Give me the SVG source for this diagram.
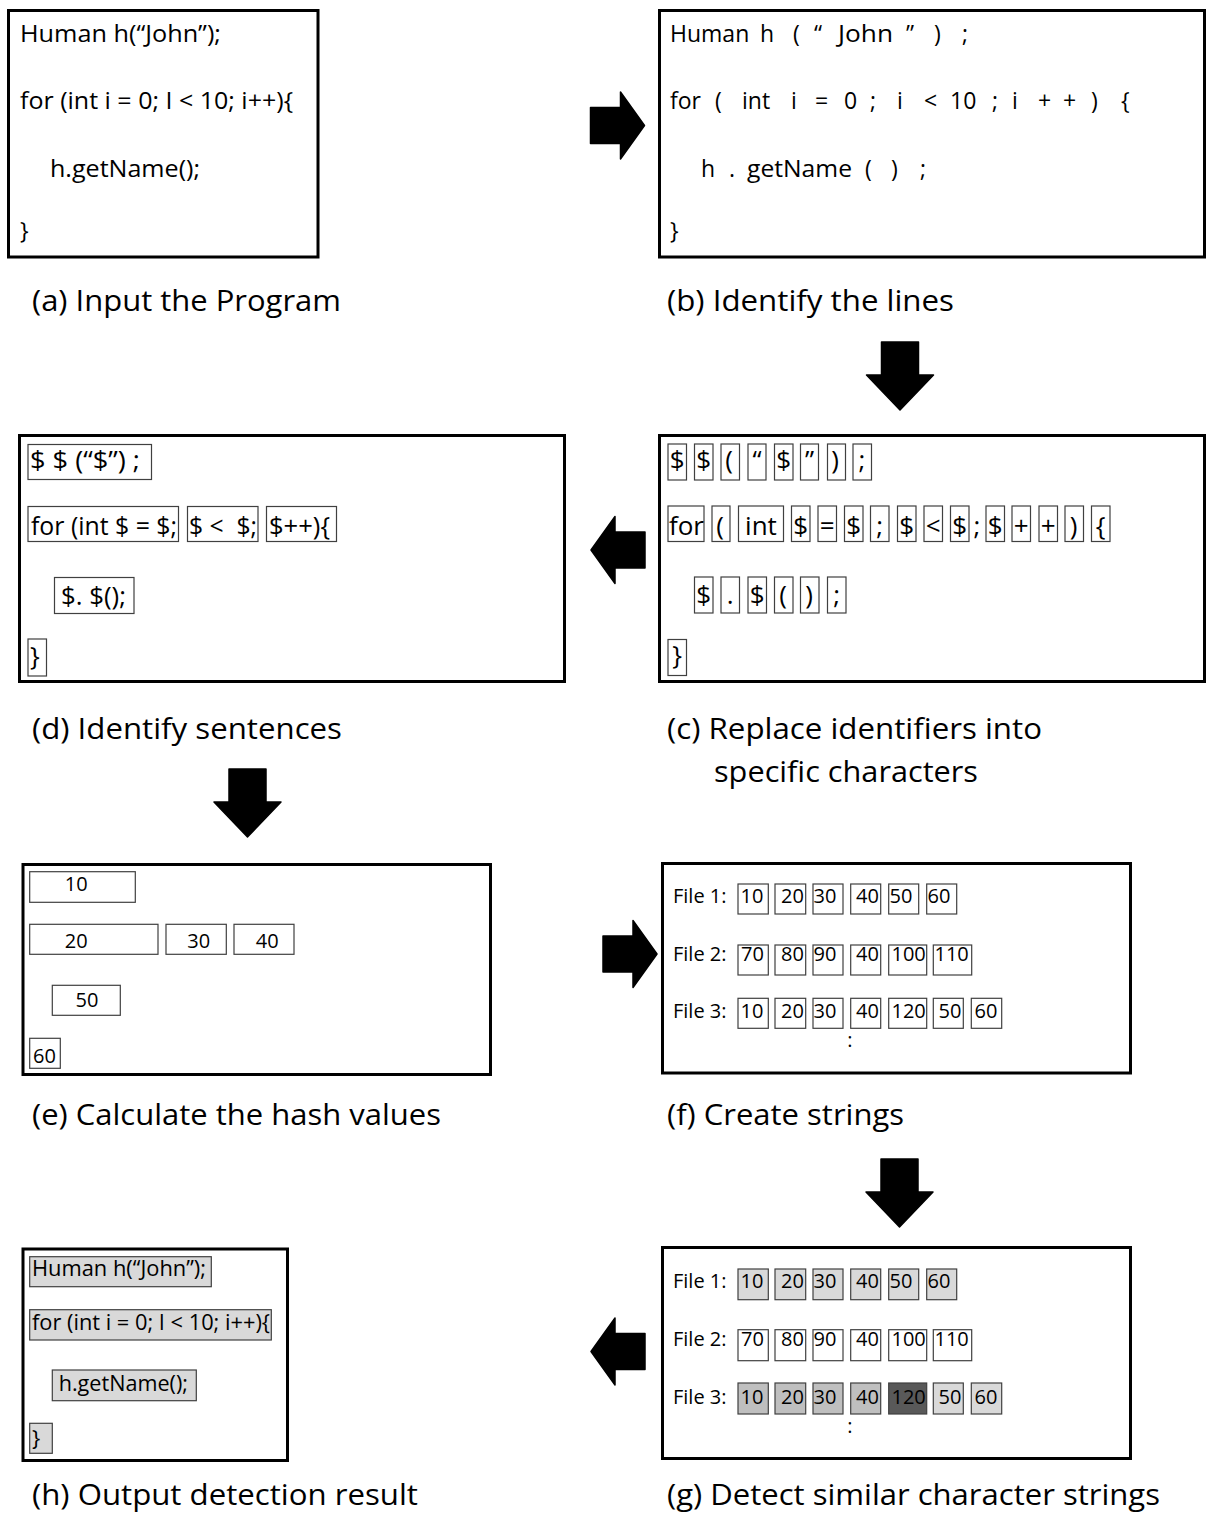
<svg xmlns="http://www.w3.org/2000/svg" width="1206" height="1515" viewBox="0 0 1206 1515">
<style>
.panel{fill:#fff;stroke:#000;stroke-width:3}
.tok{fill:#fff;stroke:#404040;stroke-width:1.2}
.hl{fill:#d9d9d9;stroke:#404040;stroke-width:1.2}
.mid{fill:#bfbfbf;stroke:#404040;stroke-width:1.2}
.dk{fill:#595959;stroke:#404040;stroke-width:1.2}
text{font-family:"Open Sans","Liberation Sans",sans-serif;fill:#000}
.code{font-size:23px}
.codeh{font-size:22px}
.big{font-size:26px}
.c{text-anchor:middle}
.num{font-size:20px}
.cap{font-size:30px}
.arrow{fill:#000;stroke:#000;stroke-width:1.5;stroke-linejoin:round}
</style>
<defs>
<path id="arrH" d="M-27,-18 H3 V-33.5 L27,0 L3,33.5 V18 H-27 Z"/>
<path id="arrV" d="M-18.5,-34 H18.5 V-1 H33.5 L0,34 L-33.5,-1 H-18.5 Z"/>
</defs>
<rect width="1206" height="1515" fill="#fff"/>

<g id="panel-a">
<rect class="panel" x="8.5" y="10.5" width="309.5" height="246.5"/>
<text class="code" x="20" y="42" textLength="201" lengthAdjust="spacingAndGlyphs">Human h(“John”);</text>
<text class="code" x="20" y="109" textLength="273" lengthAdjust="spacingAndGlyphs">for (int i = 0; I &lt; 10; i++){</text>
<text class="code" x="50" y="177" textLength="150" lengthAdjust="spacingAndGlyphs">h.getName();</text>
<text class="code" x="20" y="239">}</text>
<text class="cap" x="32" y="311" textLength="309" lengthAdjust="spacingAndGlyphs">(a) Input the Program</text>
</g>

<g id="panel-b">
<rect class="panel" x="659.5" y="10.5" width="545" height="246.5"/>
<text class="code" y="42"><tspan x="670">Human</tspan><tspan x="760">h</tspan><tspan x="793">(</tspan><tspan x="814">“</tspan><tspan x="838" textLength="55" lengthAdjust="spacingAndGlyphs">John</tspan><tspan x="906">”</tspan><tspan x="934">)</tspan><tspan x="962">;</tspan></text>
<text class="code" y="109"><tspan x="670">for</tspan><tspan x="715">(</tspan><tspan x="742">int</tspan><tspan x="791">i</tspan><tspan x="815">=</tspan><tspan x="844">0</tspan><tspan x="870">;</tspan><tspan x="897">i</tspan><tspan x="924">&lt;</tspan><tspan x="950">10</tspan><tspan x="992">;</tspan><tspan x="1012">i</tspan><tspan x="1038">+</tspan><tspan x="1063">+</tspan><tspan x="1091">)</tspan><tspan x="1121">{</tspan></text>
<text class="code" y="177"><tspan x="701">h</tspan><tspan x="729">.</tspan><tspan x="747" textLength="105" lengthAdjust="spacingAndGlyphs">getName</tspan><tspan x="865">(</tspan><tspan x="891">)</tspan><tspan x="920">;</tspan></text>
<text class="code" x="670" y="239">}</text>
<text class="cap" x="667" y="311" textLength="287" lengthAdjust="spacingAndGlyphs">(b) Identify the lines</text>
</g>

<g id="panel-c">
<rect class="panel" x="659.5" y="435.5" width="545" height="246"/>
<g>
<rect class="tok" x="668" y="444" width="18.5" height="36"/>
<rect class="tok" x="694.5" y="444" width="18.5" height="36"/>
<rect class="tok" x="721" y="444" width="18.5" height="36"/>
<rect class="tok" x="748" y="444" width="18" height="36"/>
<rect class="tok" x="774.5" y="444" width="18.5" height="36"/>
<rect class="tok" x="800.5" y="444" width="18" height="36"/>
<rect class="tok" x="827.5" y="444" width="18" height="36"/>
<rect class="tok" x="853" y="444" width="18.5" height="36"/>
</g>
<text class="big c" y="469"><tspan x="677.2">$</tspan><tspan x="703.7">$</tspan><tspan x="729">(</tspan><tspan x="757">“</tspan><tspan x="783.7">$</tspan><tspan x="809.5">”</tspan><tspan x="835">)</tspan><tspan x="862">;</tspan></text>
<g>
<rect class="tok" x="668" y="506" width="36" height="35.5"/>
<rect class="tok" x="712" y="506" width="18" height="35.5"/>
<rect class="tok" x="738.5" y="506" width="45" height="35.5"/>
<rect class="tok" x="791.5" y="506" width="18.5" height="35.5"/>
<rect class="tok" x="818" y="506" width="18.5" height="35.5"/>
<rect class="tok" x="844.5" y="506" width="18.5" height="35.5"/>
<rect class="tok" x="870.5" y="506" width="18.5" height="35.5"/>
<rect class="tok" x="897.5" y="506" width="18.5" height="35.5"/>
<rect class="tok" x="924" y="506" width="18.5" height="35.5"/>
<rect class="tok" x="950.5" y="506" width="18.5" height="35.5"/>
<rect class="tok" x="986" y="506" width="18.5" height="35.5"/>
<rect class="tok" x="1012" y="506" width="18.5" height="35.5"/>
<rect class="tok" x="1039" y="506" width="18.5" height="35.5"/>
<rect class="tok" x="1065" y="506" width="18.5" height="35.5"/>
<rect class="tok" x="1091.5" y="506" width="18.5" height="35.5"/>
</g>
<text class="big c" y="535"><tspan x="686.5">for</tspan><tspan x="720">(</tspan><tspan x="761">int</tspan><tspan x="800.7">$</tspan><tspan x="827.2">=</tspan><tspan x="853.7">$</tspan><tspan x="879.7">;</tspan><tspan x="906.7">$</tspan><tspan x="933.2">&lt;</tspan><tspan x="959.7">$</tspan><tspan x="977">;</tspan><tspan x="995.2">$</tspan><tspan x="1021.2">+</tspan><tspan x="1048.2">+</tspan><tspan x="1073.5">)</tspan><tspan x="1100.7">{</tspan></text>
<g>
<rect class="tok" x="694.5" y="577" width="18.5" height="36"/>
<rect class="tok" x="721" y="577" width="18.5" height="36"/>
<rect class="tok" x="748" y="577" width="18.5" height="36"/>
<rect class="tok" x="774.5" y="577" width="18.5" height="36"/>
<rect class="tok" x="800.5" y="577" width="18.5" height="36"/>
<rect class="tok" x="827.5" y="577" width="18.5" height="36"/>
</g>
<text class="big c" y="604"><tspan x="703.7">$</tspan><tspan x="730.2">.</tspan><tspan x="757.2">$</tspan><tspan x="783">(</tspan><tspan x="809">)</tspan><tspan x="836.7">;</tspan></text>
<rect class="tok" x="668" y="639.5" width="18.5" height="36"/>
<text class="big c" x="677" y="664">}</text>
<text class="cap" x="667" y="739" textLength="375" lengthAdjust="spacingAndGlyphs">(c) Replace identifiers into</text>
<text class="cap" x="714" y="782" textLength="264" lengthAdjust="spacingAndGlyphs">specific characters</text>
</g>

<g id="panel-d">
<rect class="panel" x="19.5" y="435.5" width="545" height="246"/>
<rect class="tok" x="28" y="444.5" width="123.5" height="35"/>
<text class="big" x="30" y="468.5" textLength="110" lengthAdjust="spacingAndGlyphs">$ $ (“$”) ;</text>
<rect class="tok" x="28" y="506.5" width="150.5" height="35"/>
<text class="big" x="31" y="535" textLength="146" lengthAdjust="spacingAndGlyphs">for (int $ = $;</text>
<rect class="tok" x="187.5" y="506.5" width="70.5" height="35"/>
<text class="big" x="189" y="535" textLength="68" lengthAdjust="spacingAndGlyphs" xml:space="preserve">$ &lt;  $;</text>
<rect class="tok" x="266.5" y="506.5" width="70" height="35"/>
<text class="big" x="269" y="535" textLength="61" lengthAdjust="spacingAndGlyphs">$++){</text>
<rect class="tok" x="54.5" y="577.5" width="79.5" height="36"/>
<text class="big" x="61" y="605" textLength="65" lengthAdjust="spacingAndGlyphs">$. $();</text>
<rect class="tok" x="28" y="639" width="18.5" height="37"/>
<text class="big" x="30" y="665">}</text>
<text class="cap" x="32" y="739" textLength="310" lengthAdjust="spacingAndGlyphs">(d) Identify sentences</text>
</g>

<g id="panel-e">
<rect class="panel" x="23" y="864.5" width="467.5" height="210"/>
<rect class="tok" x="29.7" y="871.7" width="105.6" height="30.6"/>
<text class="num c" x="76.3" y="890.7">10</text>
<rect class="tok" x="29.7" y="924.3" width="128.3" height="30"/>
<text class="num c" x="76.3" y="948.3">20</text>
<rect class="tok" x="166" y="924.3" width="60.3" height="30"/>
<text class="num c" x="198.7" y="948.3">30</text>
<rect class="tok" x="234" y="924.3" width="60" height="30"/>
<text class="num c" x="267.3" y="948.3">40</text>
<rect class="tok" x="52.3" y="985.3" width="68" height="30"/>
<text class="num c" x="87" y="1006.7">50</text>
<rect class="tok" x="29.7" y="1038.3" width="30.6" height="30"/>
<text class="num c" x="44.5" y="1062.7">60</text>
<text class="cap" x="32" y="1125" textLength="409" lengthAdjust="spacingAndGlyphs">(e) Calculate the hash values</text>
</g>

<g id="panel-f">
<rect class="panel" x="662.5" y="863.5" width="468" height="209.5"/>
<text class="num" x="673" y="902.7">File 1:</text>
<rect class="tok" x="738" y="884" width="30.3" height="30"/>
<rect class="tok" x="775" y="884" width="30.7" height="30"/>
<rect class="tok" x="813" y="884" width="30" height="30"/>
<rect class="tok" x="850.7" y="884" width="30" height="30"/>
<rect class="tok" x="888.7" y="884" width="30" height="30"/>
<rect class="tok" x="926.7" y="884" width="30" height="30"/>
<text class="num" y="902.7"><tspan x="740.5">10</tspan><tspan x="781">20</tspan><tspan x="813.5">30</tspan><tspan x="856">40</tspan><tspan x="889.5">50</tspan><tspan x="927.5">60</tspan></text>
<text class="num" x="673" y="960.7">File 2:</text>
<rect class="tok" x="738" y="945" width="30.3" height="30"/>
<rect class="tok" x="775" y="945" width="30.7" height="30"/>
<rect class="tok" x="813" y="945" width="30" height="30"/>
<rect class="tok" x="850.7" y="945" width="30" height="30"/>
<rect class="tok" x="888.7" y="945" width="38" height="30"/>
<rect class="tok" x="933.3" y="945" width="38.4" height="30"/>
<text class="num" y="960.7"><tspan x="741">70</tspan><tspan x="781">80</tspan><tspan x="813.5">90</tspan><tspan x="856">40</tspan><tspan x="891.5">100</tspan><tspan x="934.5">110</tspan></text>
<text class="num" x="673" y="1018.3">File 3:</text>
<rect class="tok" x="738" y="998.3" width="30.3" height="30"/>
<rect class="tok" x="775" y="998.3" width="30.7" height="30"/>
<rect class="tok" x="813" y="998.3" width="30" height="30"/>
<rect class="tok" x="850.7" y="998.3" width="30" height="30"/>
<rect class="tok" x="888.7" y="998.3" width="38" height="30"/>
<rect class="tok" x="933.3" y="998.3" width="30" height="30"/>
<rect class="tok" x="971.3" y="998.3" width="30.4" height="30"/>
<text class="num" y="1018.3"><tspan x="740.5">10</tspan><tspan x="781">20</tspan><tspan x="813.5">30</tspan><tspan x="856">40</tspan><tspan x="891.5">120</tspan><tspan x="938.5">50</tspan><tspan x="974.5">60</tspan></text>
<text class="num c" x="850" y="1047">:</text>
<text class="cap" x="667" y="1125" textLength="237" lengthAdjust="spacingAndGlyphs">(f) Create strings</text>
</g>

<g id="panel-g">
<rect class="panel" x="662.5" y="1247.5" width="468" height="211"/>
<text class="num" x="673" y="1288">File 1:</text>
<rect class="hl" x="738" y="1269" width="30.3" height="30.7"/>
<rect class="hl" x="775" y="1269" width="30.7" height="30.7"/>
<rect class="hl" x="813" y="1269" width="30" height="30.7"/>
<rect class="hl" x="850.7" y="1269" width="30" height="30.7"/>
<rect class="hl" x="888.7" y="1269" width="30" height="30.7"/>
<rect class="hl" x="926.7" y="1269" width="30" height="30.7"/>
<text class="num" y="1288"><tspan x="740.5">10</tspan><tspan x="781">20</tspan><tspan x="813.5">30</tspan><tspan x="856">40</tspan><tspan x="889.5">50</tspan><tspan x="927.5">60</tspan></text>
<text class="num" x="673" y="1346">File 2:</text>
<rect class="tok" x="738" y="1329.7" width="30.3" height="31"/>
<rect class="tok" x="775" y="1329.7" width="30.7" height="31"/>
<rect class="tok" x="813" y="1329.7" width="30" height="31"/>
<rect class="tok" x="850.7" y="1329.7" width="30" height="31"/>
<rect class="tok" x="888.7" y="1329.7" width="38" height="31"/>
<rect class="tok" x="933.3" y="1329.7" width="38.4" height="31"/>
<text class="num" y="1346"><tspan x="741">70</tspan><tspan x="781">80</tspan><tspan x="813.5">90</tspan><tspan x="856">40</tspan><tspan x="891.5">100</tspan><tspan x="934.5">110</tspan></text>
<text class="num" x="673" y="1404">File 3:</text>
<rect class="mid" x="738" y="1383" width="30.3" height="31"/>
<rect class="mid" x="775" y="1383" width="30.7" height="31"/>
<rect class="mid" x="813" y="1383" width="30" height="31"/>
<rect class="mid" x="850.7" y="1383" width="30" height="31"/>
<rect class="dk" x="888.7" y="1383" width="38" height="31"/>
<rect class="hl" x="933.3" y="1383" width="30" height="31"/>
<rect class="hl" x="971.3" y="1383" width="30.4" height="31"/>
<text class="num" y="1404"><tspan x="740.5">10</tspan><tspan x="781">20</tspan><tspan x="813.5">30</tspan><tspan x="856">40</tspan><tspan x="891.5">120</tspan><tspan x="938.5">50</tspan><tspan x="974.5">60</tspan></text>
<text class="num c" x="850" y="1432.5">:</text>
<text class="cap" x="667" y="1505" textLength="493" lengthAdjust="spacingAndGlyphs">(g) Detect similar character strings</text>
</g>

<g id="panel-h">
<rect class="panel" x="23" y="1249" width="264.5" height="211.5"/>
<rect class="hl" x="29.7" y="1256.7" width="181.6" height="30"/>
<text class="codeh" x="32" y="1275.7" textLength="174" lengthAdjust="spacingAndGlyphs">Human h(“John”);</text>
<rect class="hl" x="29.7" y="1309.7" width="241.6" height="30.3"/>
<text class="codeh" x="32" y="1330" textLength="238" lengthAdjust="spacingAndGlyphs">for (int i = 0; I &lt; 10; i++){</text>
<rect class="hl" x="52.3" y="1370" width="144" height="30.7"/>
<text class="codeh" x="58.7" y="1390.7" textLength="129.3" lengthAdjust="spacingAndGlyphs">h.getName();</text>
<rect class="hl" x="29.7" y="1423.3" width="22.6" height="30"/>
<text class="codeh" x="32" y="1446">}</text>
<text class="cap" x="32" y="1505" textLength="386" lengthAdjust="spacingAndGlyphs">(h) Output detection result</text>
</g>

<g id="connectors">
<use href="#arrH" class="arrow" transform="translate(617.5,125.5)"/>
<use href="#arrV" class="arrow" transform="translate(900,376)"/>
<use href="#arrH" class="arrow" transform="translate(618,550) scale(-1,1)"/>
<use href="#arrV" class="arrow" transform="translate(247.5,803)"/>
<use href="#arrH" class="arrow" transform="translate(630,954)"/>
<use href="#arrV" class="arrow" transform="translate(899.5,1193)"/>
<use href="#arrH" class="arrow" transform="translate(618,1351.5) scale(-1,1)"/>
</g>
</svg>
